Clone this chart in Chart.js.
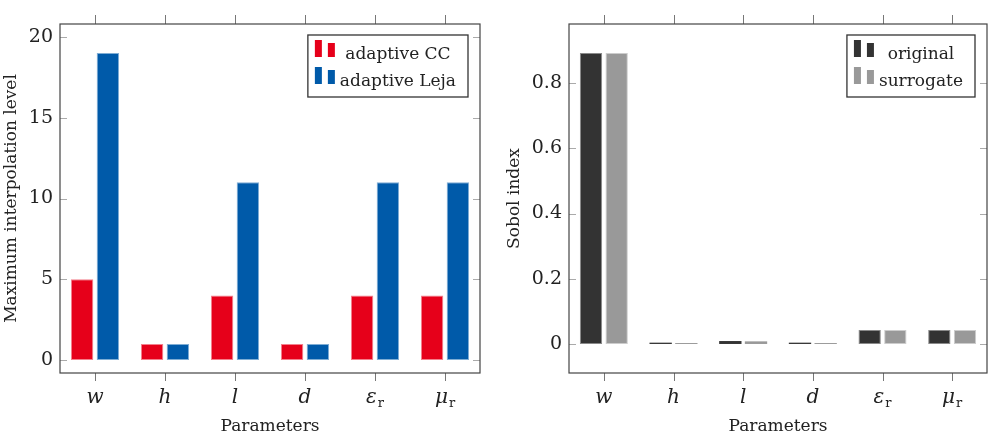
<!DOCTYPE html>
<html>
<head>
<meta charset="utf-8">
<script src="https://cdn.jsdelivr.net/npm/chart.js"></script>
<style>
  html, body { margin: 0; padding: 0; overflow: hidden; background: #fff; }
  #wrap { position: relative; width: 991px; height: 440px; }
  #levelChart { position: absolute; left: 0; top: 0; }
  #sobolChart { position: absolute; left: 495px; top: 0; }
</style>
</head>
<body>
<div id="wrap">
  <canvas id="levelChart" width="495" height="440"></canvas>
  <canvas id="sobolChart" width="496" height="440"></canvas>
</div>
<script>
// data
const params = ['w', 'h', 'l', 'd', 'ε_r', 'μ_r'];
const ccLevels = [5, 1, 4, 1, 4, 4];
const lejaLevels = [19, 1, 11, 1, 11, 11];
const levelTicks = [0, 5, 10, 15, 20];
const sobolOriginal = [0.892, 0.004, 0.009, 0.004, 0.043, 0.043];
const sobolSurrogate = [0.892, 0.003, 0.008, 0.003, 0.043, 0.043];
const sobolTicks = [0, 0.2, 0.4, 0.6, 0.8];

Chart.defaults.font.family = 'DejaVu Serif';
Chart.defaults.color = '#222';

// frame, pgfplots style ticks, math labels and the boxed legend
const framePlugin = {
  id: 'frame',
  afterDraw(chart) {
    const ctx = chart.ctx, a = chart.chartArea;
    const x = chart.scales.x, y = chart.scales.y;
    ctx.save();

    ctx.strokeStyle = '#aaa';
    ctx.lineWidth = 1;
    y.ticks.forEach(t => {
      const py = Math.round(y.getPixelForValue(t.value)) + 0.5;
      ctx.beginPath();
      ctx.moveTo(a.left, py); ctx.lineTo(a.left + 7, py);
      ctx.moveTo(a.right, py); ctx.lineTo(a.right - 7, py);
      ctx.stroke();
    });

    ctx.strokeStyle = '#777';
    x.ticks.forEach((t, i) => {
      const px = Math.round(x.getPixelForTick(i)) + 0.5;
      ctx.beginPath();
      ctx.moveTo(px, a.top); ctx.lineTo(px, a.top - 9);
      ctx.moveTo(px, a.bottom); ctx.lineTo(px, a.bottom + 8);
      ctx.stroke();
    });

    ctx.strokeStyle = '#444';
    ctx.lineWidth = 1.2;
    ctx.strokeRect(a.left, a.top, a.right - a.left, a.bottom - a.top);

    // tick labels: italic symbol + upright subscript
    ctx.fillStyle = '#222';
    ctx.textBaseline = 'alphabetic';
    ctx.textAlign = 'left';
    chart.data.labels.forEach((lab, i) => {
      const parts = lab.split('_');
      const px = x.getPixelForTick(i);
      ctx.font = 'italic 20px "DejaVu Serif"';
      const w1 = ctx.measureText(parts[0]).width;
      ctx.font = '13px "DejaVu Serif"';
      const w2 = parts[1] ? ctx.measureText(parts[1]).width + 1 : 0;
      const x0 = px - (w1 + w2) / 2;
      ctx.font = 'italic 20px "DejaVu Serif"';
      ctx.fillText(parts[0], x0, a.bottom + 30);
      if (parts[1]) {
        ctx.font = '13px "DejaVu Serif"';
        ctx.fillText(parts[1], x0 + w1 + 1, a.bottom + 34);
      }
    });

    // legend box in the upper right corner
    const sets = chart.data.datasets;
    ctx.font = '17px "DejaVu Serif"';
    let maxW = 0;
    sets.forEach(ds => { maxW = Math.max(maxW, ctx.measureText(ds.label).width); });
    const boxW = 7 + 20 + 5 + maxW + 12;
    const bx = a.right - 12 - boxW, by = a.top + 11;
    ctx.fillStyle = '#fff';
    ctx.fillRect(bx, by, boxW, 62);
    ctx.strokeStyle = '#333';
    ctx.lineWidth = 1.3;
    ctx.strokeRect(bx, by, boxW, 62);
    sets.forEach((ds, i) => {
      const base = by + 22 + i * 27;
      ctx.fillStyle = ds.backgroundColor;
      ctx.fillRect(bx + 7, base - 17, 7, 17);
      ctx.fillRect(bx + 20, base - 14, 7, 14);
      ctx.fillStyle = '#222';
      ctx.textAlign = 'center';
      ctx.fillText(ds.label, bx + 32 + maxW / 2, base + 2);
    });
    ctx.restore();
  }
};

// thin bars get no outline, so their fill stays visible
const edge = c => (Math.abs(c.raw) < 0.02 ? 0 : 1);

function makeChart(id, sets, yMin, yMax, yTicks, yTitle, pad, titlePad) {
  return new Chart(id, {
    type: 'bar',
    data: { labels: params, datasets: sets },
    options: {
      responsive: false,
      animation: false,
      layout: { padding: { left: 0, right: pad.right, top: 24, bottom: 0 } },
      datasets: { bar: { categoryPercentage: 0.737, barPercentage: 0.87, borderWidth: edge, borderSkipped: false } },
      plugins: { legend: { display: false }, tooltip: { enabled: false } },
      scales: {
        x: {
          grid: { display: false },
          border: { display: false },
          ticks: { display: false },
          title: { display: true, text: 'Parameters', font: { size: 17 }, padding: { top: 0, bottom: 3 } },
          afterFit: s => { s.height = 67; }
        },
        y: {
          min: yMin,
          max: yMax,
          grid: { display: false, drawTicks: false },
          border: { display: false },
          ticks: { font: { size: 19 }, padding: 7, callback: v => v.toString() },
          afterBuildTicks: s => { s.ticks = yTicks.map(v => ({ value: v })); },
          title: { display: true, text: yTitle, font: { size: 17 }, padding: { top: titlePad, bottom: 0 } },
          afterFit: s => { s.width = pad.left; }
        }
      }
    },
    plugins: [framePlugin]
  });
}

makeChart('levelChart', [
  { label: 'adaptive CC', data: ccLevels, backgroundColor: '#e6001a', borderColor: '#f3808c' },
  { label: 'adaptive Leja', data: lejaLevels, backgroundColor: '#005aa9', borderColor: '#7fadd4' }
], -0.8, 20.8, levelTicks, 'Maximum interpolation level', { left: 60, right: 15 }, 1);

makeChart('sobolChart', [
  { label: 'original', data: sobolOriginal, backgroundColor: '#333333', borderColor: '#8a8a8a' },
  { label: 'surrogate', data: sobolSurrogate, backgroundColor: '#999999', borderColor: '#cccccc' }
], -0.089, 0.981, sobolTicks, 'Sobol index', { left: 74, right: 4 }, 9);
</script>
</body>
</html>
